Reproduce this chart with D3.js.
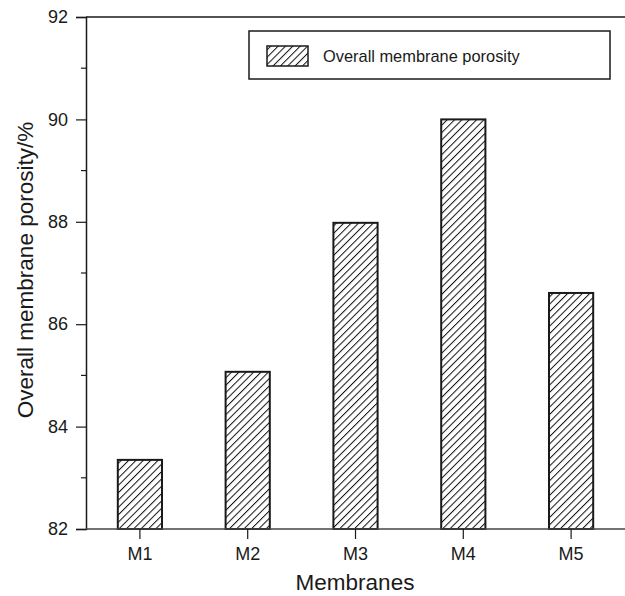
<!DOCTYPE html>
<html>
<head>
<meta charset="utf-8">
<script src="https://cdn.jsdelivr.net/npm/d3@7"></script>
<style>
  html, body { margin: 0; padding: 0; background: #fff; }
  svg { display: block; font-family: "Liberation Sans", Arial, Helvetica, sans-serif; }
</style>
</head>
<body>
<svg id="chart" width="625" height="596"></svg>
<script>
// Membrane porosity data
const categories = ["M1", "M2", "M3", "M4", "M5"];
const porosity = [83.35, 85.07, 87.98, 90.0, 86.61];
const majorTicks = [82, 84, 86, 88, 90, 92];
const minorTicks = [83, 85, 87, 89, 91];
const seriesName = "Overall membrane porosity";
const xTitle = "Membranes";
const yTitle = "Overall membrane porosity/%";

const W = 625, H = 596;
const margin = { left: 86, top: 17, right: 0, bottom: 67 };
const plotBottom = H - margin.bottom;
const ink = "#1a1a1a";

const svg = d3.select("#chart");

// Diagonal hatch fill
const defs = svg.append("defs");
const pat = defs.append("pattern")
  .attr("id", "hatch")
  .attr("patternUnits", "userSpaceOnUse")
  .attr("width", 5.2).attr("height", 5.2)
  .attr("patternTransform", "rotate(45)");
pat.append("rect").attr("width", 5.2).attr("height", 5.2).attr("fill", "#fff");
pat.append("line")
  .attr("x1", 0).attr("y1", 0).attr("x2", 0).attr("y2", 5.2)
  .attr("stroke", "#111").attr("stroke-width", 2);

const x = d3.scaleBand()
  .domain(categories)
  .range([margin.left, W - margin.right])
  .paddingInner(0.59)
  .paddingOuter(0.295);

const y = d3.scaleLinear()
  .domain([82, 92])
  .range([plotBottom, margin.top]);

// Bars
svg.append("g").selectAll("rect")
  .data(categories.map((c, i) => ({ c, v: porosity[i] })))
  .join("rect")
  .attr("x", d => x(d.c))
  .attr("y", d => y(d.v))
  .attr("width", x.bandwidth())
  .attr("height", d => y(82) - y(d.v))
  .attr("fill", "url(#hatch)")
  .attr("stroke", ink)
  .attr("stroke-width", 2);

// Top frame line
svg.append("line")
  .attr("x1", margin.left).attr("x2", W)
  .attr("y1", margin.top).attr("y2", margin.top)
  .attr("stroke", ink).attr("stroke-width", 1.5);

// Y axis with major ticks
const yAxis = d3.axisLeft(y).tickValues(majorTicks).tickSize(10).tickPadding(8).tickFormat(d3.format("d"));
const gy = svg.append("g").attr("transform", `translate(${margin.left},0)`).call(yAxis);
gy.select(".domain").attr("stroke", ink).attr("stroke-width", 1.5);
gy.selectAll(".tick line").attr("stroke", ink).attr("stroke-width", 1.2);
gy.selectAll(".tick text").attr("font-size", 18).attr("fill", ink)
  .attr("font-family", "'Liberation Sans', Arial, sans-serif");

// Minor ticks
svg.append("g").selectAll("line")
  .data(minorTicks)
  .join("line")
  .attr("x1", margin.left - 5).attr("x2", margin.left)
  .attr("y1", d => y(d)).attr("y2", d => y(d))
  .attr("stroke", ink).attr("stroke-width", 1.2);

// X axis
const xAxis = d3.axisBottom(x).tickSize(10).tickPadding(8).tickSizeOuter(0);
const gx = svg.append("g").attr("transform", `translate(0,${plotBottom})`).call(xAxis);
gx.select(".domain").attr("stroke", "#444").attr("stroke-width", 1.5)
  .attr("d", `M${margin.left},0H${W}`);
gx.selectAll(".tick line").attr("stroke", ink).attr("stroke-width", 1.2);
gx.selectAll(".tick text").attr("font-size", 18).attr("fill", ink)
  .attr("font-family", "'Liberation Sans', Arial, sans-serif");

// Axis titles
svg.append("text")
  .attr("x", 355).attr("y", 590)
  .attr("text-anchor", "middle")
  .attr("font-size", 22.5).attr("fill", ink)
  .text(xTitle);

svg.append("text")
  .attr("transform", `translate(33,270) rotate(-90)`)
  .attr("text-anchor", "middle")
  .attr("font-size", 22.5).attr("fill", ink)
  .text(yTitle);

// Legend
const lg = svg.append("g");
lg.append("rect")
  .attr("x", 249).attr("y", 31).attr("width", 361).attr("height", 48)
  .attr("fill", "#fff").attr("stroke", ink).attr("stroke-width", 1.5);
lg.append("rect")
  .attr("x", 267).attr("y", 46).attr("width", 41).attr("height", 20)
  .attr("fill", "url(#hatch)").attr("stroke", ink).attr("stroke-width", 1.5);
lg.append("text")
  .attr("x", 323).attr("y", 62)
  .attr("font-size", 16.4).attr("fill", ink)
  .text(seriesName);
</script>
</body>
</html>
